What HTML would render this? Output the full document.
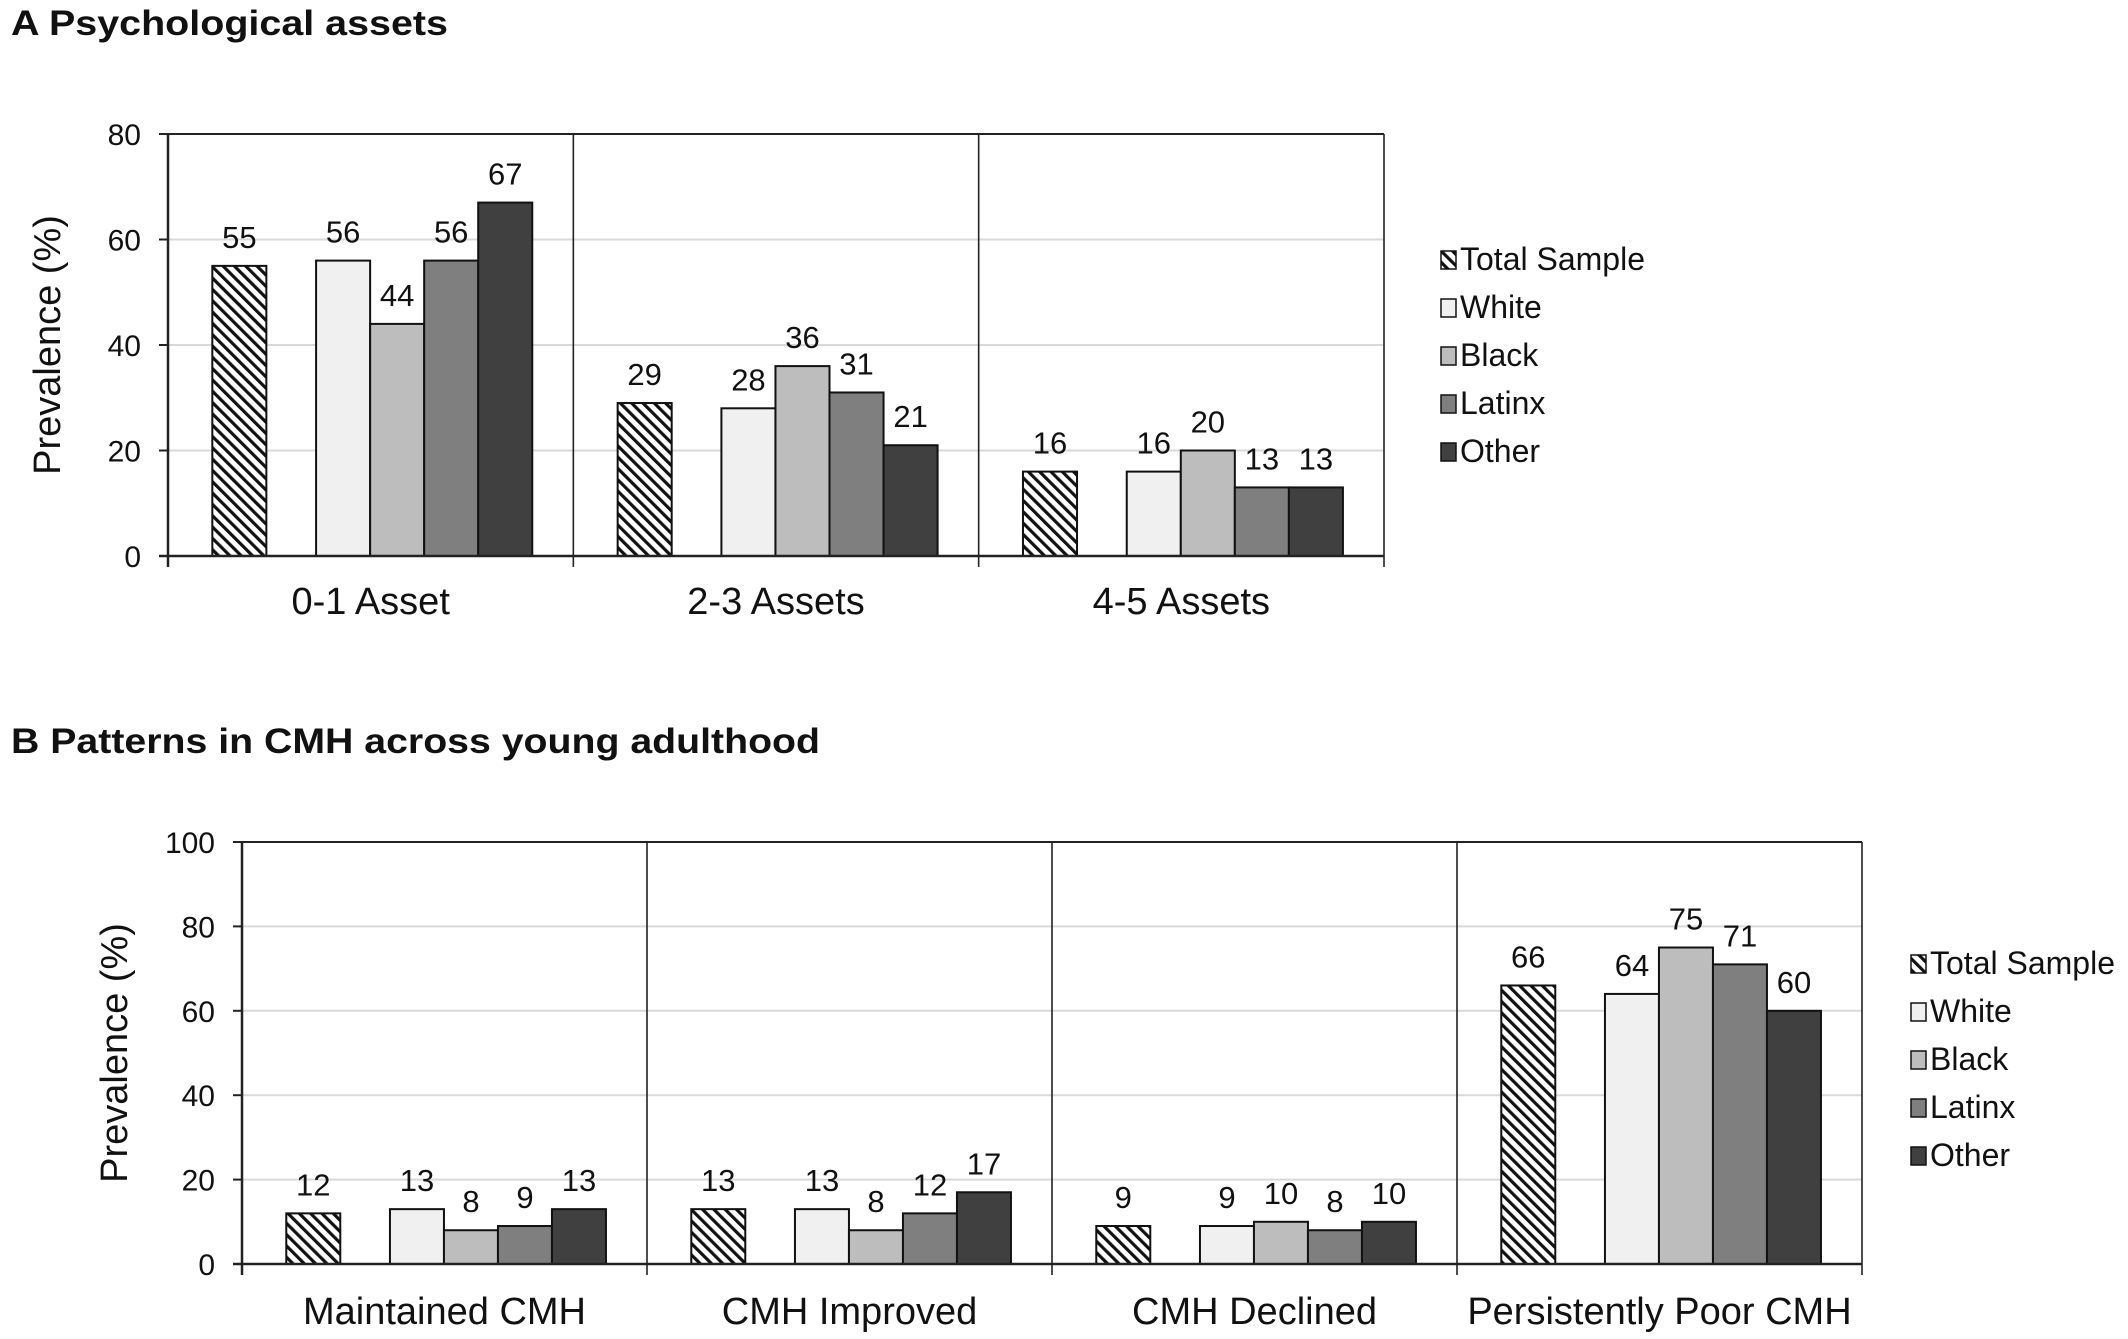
<!DOCTYPE html>
<html><head><meta charset="utf-8"><style>
html,body{margin:0;padding:0;background:#fff;}
svg{display:block;font-family:"Liberation Sans",Arial,sans-serif;}
</style></head><body>
<svg id="chart" width="2128" height="1339" viewBox="0 0 2128 1339" xmlns="http://www.w3.org/2000/svg">
<defs>
<pattern id="hatch" patternUnits="userSpaceOnUse" width="8" height="8" patternTransform="rotate(-45)">
<rect width="8" height="8" fill="#fff"/>
<rect x="0" y="0" width="3.2" height="8" fill="#111"/>
</pattern>
</defs>
<text x="11" y="35" font-size="35" font-weight="bold" fill="#111" textLength="437" lengthAdjust="spacingAndGlyphs">A  Psychological assets</text>
<text x="11" y="753" font-size="35" font-weight="bold" fill="#111" textLength="809" lengthAdjust="spacingAndGlyphs">B  Patterns in CMH across young adulthood</text>
<g id="panelA"></g>
<g id="panelB"></g>
</svg>
<script>
const seriesNames = ["Total Sample","White","Black","Latinx","Other"];
const seriesFills = ["url(#hatch)","#f0f0f0","#bdbdbd","#7f7f7f","#404040"];

const catsA = ["0-1 Asset","2-3 Assets","4-5 Assets"];
const totalA = [55,29,16];
const whiteA = [56,28,16];
const blackA = [44,36,20];
const latinxA = [56,31,13];
const otherA = [67,21,13];
const ticksA = [0,20,40,60,80];

const catsB = ["Maintained CMH","CMH Improved","CMH Declined","Persistently Poor CMH"];
const totalB = [12,13,9,66];
const whiteB = [13,13,9,64];
const blackB = [8,8,10,75];
const latinxB = [9,12,8,71];
const otherB = [13,17,10,60];
const ticksB = [0,20,40,60,80,100];

const NS = "http://www.w3.org/2000/svg";
function mk(parent, tag, attrs){
  const e = document.createElementNS(NS, tag);
  for (const k in attrs) e.setAttribute(k, attrs[k]);
  parent.appendChild(e);
  return e;
}

function drawChart(g, cfg){
  const {x0, x1, yTop, yZero, max, cats, series, ticks, titleY, legX, legY, prefix} = cfg;
  const yScale = v => yZero - (v / max) * (yZero - yTop);
  const band = (x1 - x0) / cats.length;
  const bw = band / 7.5;
  const xBand = i => x0 + i * band;
  ticks.forEach(t => {
    const y = yScale(t);
    if (t > 0 && t < max) {
      const gl = mk(g, "line", {x1: x0, x2: x1, y1: y, y2: y, stroke: "#d9d9d9", "stroke-width": 2});
      
      
    }
    const tm = mk(g, "line", {x1: x0 - 9, x2: x0, y1: y, y2: y, stroke: "#222", "stroke-width": 2});
    
    
    const tl = mk(g, "text", {x: x0 - 27, y: y + 11, "font-size": 30, "text-anchor": "end", fill: "#111"});
    tl.textContent = t;
    
    
  });
  const top = mk(g, "line", {x1: x0, x2: x1, y1: yTop, y2: yTop, stroke: "#222", "stroke-width": 2});
  
  
  const ax = mk(g, "line", {x1: x0, x2: x0, y1: yTop, y2: yZero + 11, stroke: "#222", "stroke-width": 2.5});
  
  
  for (let i = 1; i <= cats.length; i++) {
    const d = mk(g, "line", {x1: xBand(i), x2: xBand(i), y1: yTop, y2: yZero + 11, stroke: "#222", "stroke-width": 1.6});
    
    
  }
  cats.forEach((c, i) => {
    series.forEach((arr, s) => {
      const slot = s === 0 ? 0 : s + 1;
      const bx = xBand(i) + bw * 0.82 + slot * bw - (s === 0 ? 0 : bw * 0.08);
      const v = arr[i];
      const y = yScale(v);
      const r = mk(g, "rect", {x: bx, y: y, width: bw, height: yZero - y, fill: seriesFills[s], stroke: "#111", "stroke-width": 2});
      
      
      const vl = mk(g, "text", {x: bx + bw / 2, y: y - 18, "font-size": 31, "text-anchor": "middle", fill: "#111"});
      vl.textContent = v;
      
      
    });
    const cl = mk(g, "text", {x: xBand(i) + band / 2, y: titleY, "font-size": 38, "text-anchor": "middle", fill: "#111"});
    cl.textContent = c;
    
    
  });
  const base = mk(g, "line", {x1: x0 - 9, x2: x1, y1: yZero, y2: yZero, stroke: "#222", "stroke-width": 2.5});
  
  
  const cy = (yTop + yZero) / 2;
  const yt = mk(g, "text", {x: cfg.yTitleX, y: cy, "font-size": 38, "text-anchor": "middle", fill: "#111", transform: "rotate(-90 " + cfg.yTitleX + " " + cy + ")"});
  yt.textContent = "Prevalence (%)";
  
  
  seriesNames.forEach((n, s) => {
    const ly = legY + s * 48;
    const sq = mk(g, "rect", {x: legX, y: ly - 17, width: 15, height: 18, fill: seriesFills[s], stroke: "#111", "stroke-width": 1.5});
    
    
    const lt = mk(g, "text", {x: legX + 19, y: ly + 2, "font-size": 32, fill: "#111"});
    lt.textContent = n;
    
    
  });
}

drawChart(document.getElementById("panelA"), {
  prefix: "a", x0: 168, x1: 1384, yTop: 134, yZero: 556, max: 80,
  cats: catsA, series: [totalA, whiteA, blackA, latinxA, otherA], ticks: ticksA,
  titleY: 614, yTitleX: 60, legX: 1441, legY: 268
});
drawChart(document.getElementById("panelB"), {
  prefix: "b", x0: 242, x1: 1862, yTop: 842, yZero: 1264, max: 100,
  cats: catsB, series: [totalB, whiteB, blackB, latinxB, otherB], ticks: ticksB,
  titleY: 1324, yTitleX: 127, legX: 1911, legY: 972
});
</script>
</body></html>
